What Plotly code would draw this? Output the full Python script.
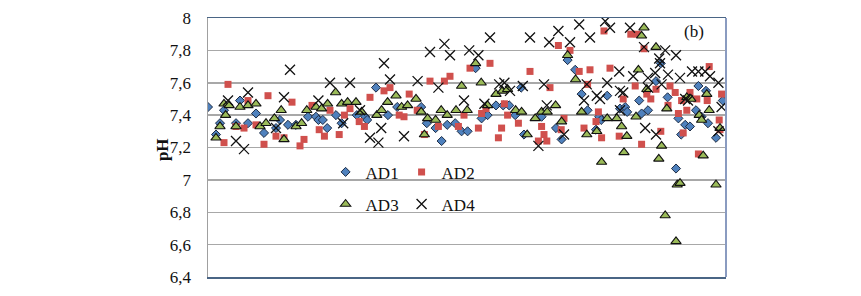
import plotly.graph_objects as go

# ---------------- data ----------------
ad1_x = [0, 2, 3, 4, 7, 8, 10, 12, 14, 17, 18, 20, 22, 25, 27, 27.6, 28.7, 29.8, 32, 33.4,
         37.2, 39.3, 39.8, 42, 45, 47.3, 53.3, 54.7, 56.9, 58.4, 59.8, 61.8, 63.4, 64.9, 66.9,
         68.4, 69.9, 72, 73.8, 75.3, 76.8, 78.3, 79, 83.4, 87, 88.4, 89.9, 91.8, 93.4, 94.9,
         97, 97.8, 98.3, 99.8, 103, 104.3, 104.8, 107.8, 108.4, 109.8, 110, 112, 113.2, 114.9,
         117, 117.6, 118.3, 119.3, 120.3, 120.5, 122, 122.6, 123.4, 124.5, 125, 127, 128.7]
ad1_y = [7.45, 7.28, 7.35, 7.43, 7.35, 7.49, 7.35, 7.41, 7.29, 7.32, 7.37, 7.34, 7.34, 7.39, 7.39,
         7.37, 7.37, 7.32, 7.40, 7.35, 7.40, 7.39, 7.37, 7.57, 7.40, 7.45, 7.45, 7.35, 7.32, 7.24,
         7.34, 7.35, 7.30, 7.30, 7.69, 7.38, 7.40, 7.46, 7.46, 7.46, 7.40, 7.57, 7.28, 7.39, 7.32,
         7.25, 7.74, 7.68, 7.53, 7.43, 7.31, 7.39, 7.37, 7.52, 7.44, 7.45, 7.42, 7.49, 7.41, 7.55,
         7.43, 7.61, 7.72, 7.51, 7.07, 7.38, 7.28, 7.34, 7.51, 7.33, 7.43, 7.58, 7.39, 7.55, 7.35,
         7.26, 7.49]

ad2_x = [4, 5, 7, 9, 10, 12, 14, 15, 17, 19, 21, 23, 24, 26, 27.8, 29.1, 30.5, 32.8, 34.1, 35.5,
         37.8, 39.1, 40.5, 44, 45.5, 47.8, 49, 50.3, 52.3, 54.1, 55.5, 57.6, 59.1, 60.5, 62.6, 64,
         65.5, 67.6, 68.4, 69.5, 70.5, 72.6, 73.4, 74.1, 74.9, 77.6, 80.5, 82.6, 83.4, 84, 84.7,
         85.5, 87.6, 88.3, 89, 90.5, 92.8, 94, 94.9, 95.5, 97, 97.6, 98.4, 99, 100.5, 102.8,
         103.8, 105.7, 106.8, 107.3, 108.4, 109, 109.7, 110.7, 112, 113.2, 115, 115.5, 116.8,
         117.6, 118.4, 118.8, 119.7, 120.5, 122.2, 122.6, 124.8, 125.3, 127.8, 128, 128.4]
ad2_y = [7.23, 7.59, 7.33, 7.32, 7.49, 7.34, 7.22, 7.52, 7.27, 7.26, 7.48, 7.21, 7.25, 7.46, 7.31,
         7.27, 7.43, 7.28, 7.40, 7.44, 7.36, 7.33, 7.51, 7.55, 7.57, 7.40, 7.39, 7.53, 7.43, 7.28,
         7.61, 7.33, 7.61, 7.64, 7.33, 7.40, 7.69, 7.32, 7.41, 7.44, 7.72, 7.26, 7.32, 7.47, 7.40,
         7.35, 7.67, 7.24, 7.33, 7.28, 7.24, 7.57, 7.83, 7.31, 7.38, 7.80, 7.67, 7.32, 7.59, 7.68,
         7.36, 7.42, 7.26, 7.92, 7.69, 7.27, 7.50, 7.90, 7.58, 7.90, 7.22, 7.81, 7.53, 7.50, 7.56,
         7.30, 7.46, 7.58, 7.54, 7.41, 7.49, 7.29, 7.43, 7.54, 7.50, 7.16, 7.49, 7.70, 7.37, 7.31,
         7.53]

ad3_x = [2, 3, 4, 4.4, 5.3, 7, 8, 10, 12, 13, 14.5, 16.6, 18.3, 19, 22, 23.4, 24.7, 27, 28.4,
         29.9, 31.9, 33.4, 34.9, 37, 38.4, 42.2, 43.4, 44.9, 47, 48.4, 49.9, 52, 53.3, 54.1, 54.9,
         56.9, 58.3, 59.8, 62, 63.4, 64.8, 66.9, 68.3, 69.9, 72, 73.6, 74.9, 76.9, 78.4, 79.8,
         81.8, 83.4, 84.8, 86.9, 88.4, 89.9, 91.9, 93.4, 94.7, 97.2, 98.4, 99.8, 102.2, 103.4,
         104, 104.7, 107, 107.6, 108.4, 109, 109.7, 112, 112.7, 113.4, 114.3, 114.7, 117, 117.3,
         118, 119.7, 120.7, 122.8, 123.4, 123.8, 124.7, 125.3, 127, 128]
ad3_y = [7.26, 7.33, 7.47, 7.40, 7.46, 7.33, 7.45, 7.46, 7.47, 7.33, 7.35, 7.38, 7.43, 7.25, 7.33,
         7.35, 7.43, 7.45, 7.44, 7.47, 7.54, 7.47, 7.48, 7.48, 7.42, 7.40, 7.43, 7.48, 7.52, 7.45,
         7.46, 7.50, 7.42, 7.28, 7.38, 7.37, 7.43, 7.40, 7.43, 7.58, 7.43, 7.72, 7.60, 7.46, 7.53,
         7.55, 7.56, 7.43, 7.42, 7.28, 7.38, 7.42, 7.42, 7.46, 7.36, 7.77, 7.62, 7.42, 7.28, 7.30,
         7.11, 7.38, 7.38, 7.33, 7.17, 7.27, 7.39, 7.68, 7.89, 7.94, 7.56, 7.82, 7.13, 7.21, 6.78,
         7.44, 6.62, 6.97, 6.98, 7.51, 7.50, 7.40, 7.37, 7.15, 7.53, 7.43, 6.97, 7.32]

ad4_x = [5, 7, 9, 10, 17, 19, 20.5, 27.6, 30.5, 33.8, 35.5, 38, 40.5, 42.6, 43.3, 44, 45.5, 49,
         52.4, 55.5, 57.6, 59.1, 60.5, 64, 65.3, 67.6, 69.1, 70.5, 72.8, 74.1, 75.5, 78.7, 80.5,
         82.6, 84, 84.7, 85.3, 87.6, 89, 90.5, 92.8, 94, 94.7, 95.5, 97.2, 98, 99.3, 99.8, 100.5,
         102.8, 103, 103, 103.8, 105.5, 106.3, 109, 109.3, 110, 110, 111.8, 112, 112.8, 113,
         113.4, 114.3, 115, 117, 118, 119.3, 120, 121, 122.6, 124.3, 125.5, 127.6, 127.6, 128.4]
ad4_y = [7.49, 7.24, 7.19, 7.54, 7.32, 7.51, 7.68, 7.49, 7.60, 7.35, 7.60, 7.43, 7.26, 7.23, 7.32,
         7.72, 7.62, 7.27, 7.61, 7.79, 7.57, 7.84, 7.77, 7.49, 7.80, 7.77, 7.47, 7.88, 7.59, 7.60,
         7.55, 7.58, 7.88, 7.21, 7.59, 7.46, 7.85, 7.92, 7.28, 7.85, 7.96, 7.49, 7.59, 7.88, 7.52,
         7.50, 7.98, 7.60, 7.94, 7.67, 7.55, 7.43, 7.54, 7.94, 7.64, 7.82, 7.32, 7.63, 7.57, 7.66,
         7.28, 7.75, 7.72, 7.59, 7.80, 7.65, 7.77, 7.63, 7.50, 7.49, 7.67, 7.67, 7.67, 7.64, 7.60,
         7.30, 7.45]

y_tickvals = [6.4, 6.6, 6.8, 7.0, 7.2, 7.4, 7.6, 7.8, 8.0]
y_ticktext = ["6,4", "6,6", "6,8", "7", "7,2", "7,4", "7,6", "7,8", "8"]

# ---------------- figure ----------------
SERIF = "Liberation Serif"
fig = go.Figure()

fig.add_trace(go.Scatter(
    x=ad1_x, y=ad1_y, mode="markers", name="AD1", legend="legend",
    marker=dict(symbol="diamond", size=7, color="#4f81bd",
                line=dict(color="#1d2c45", width=1))))
fig.add_trace(go.Scatter(
    x=ad2_x, y=ad2_y, mode="markers", name="AD2", legend="legend",
    marker=dict(symbol="square", size=7, color="#d0504d",
                line=dict(width=0))))
fig.add_trace(go.Scatter(
    x=ad3_x, y=ad3_y, mode="markers", name="AD3", legend="legend2",
    marker=dict(symbol="triangle-up", size=9, color="#9bbb59",
                line=dict(color="#111111", width=1.1))))
fig.add_trace(go.Scatter(
    x=ad4_x, y=ad4_y, mode="markers", name="AD4", legend="legend2",
    marker=dict(symbol="x-thin-open", size=10, color="#111111",
                line=dict(color="#111111", width=1.3))))

# right border of plot area
fig.add_shape(type="line", xref="paper", yref="paper", x0=1, x1=1, y0=0, y1=1,
              line=dict(color="#8a9bc0", width=2))

fig.add_annotation(text="(b)", xref="paper", yref="paper", x=0.938, y=0.949,
                   xanchor="center", yanchor="middle",
                   showarrow=False, font=dict(family=SERIF, size=17, color="#111111"))
fig.add_annotation(text="<b>pH</b>", xref="paper", yref="paper", x=-0.0888, y=0.49,
                   xanchor="center", yanchor="middle", textangle=-90,
                   showarrow=False, font=dict(family=SERIF, size=17, color="#111111"))

legend_common = dict(orientation="h", xanchor="left", yanchor="middle",
                     bgcolor="rgba(0,0,0,0)", borderwidth=0,
                     font=dict(family=SERIF, size=17, color="#111111"),
                     entrywidth=31, entrywidthmode="pixels", itemwidth=30)

fig.update_layout(
    width=861, height=296,
    margin=dict(l=208, r=135, t=12, b=9),
    paper_bgcolor="white", plot_bgcolor="white",
    showlegend=True,
    legend=dict(x=0.227, y=0.404, **legend_common),
    legend2=dict(x=0.227, y=0.28, **legend_common),
    xaxis=dict(range=[0, 129.5], showgrid=False, zeroline=False, showticklabels=False,
               ticks="", showline=True, linecolor="#4a6585", linewidth=1.5, mirror=True),
    yaxis=dict(range=[6.4, 8.0], tickvals=y_tickvals, ticktext=y_ticktext,
               showgrid=True, gridcolor="#a8a8a8", gridwidth=1.5, zeroline=False,
               showline=True, linecolor="#a0a0a0", linewidth=1.5, ticks="",
               ticklabelstandoff=12, ticklabeloverflow="allow",
               tickfont=dict(family=SERIF, size=17, color="#111111")),
)

fig.write_html("out.html", config={"displayModeBar": False, "staticPlot": True},
               post_script="document.body.style.margin='0';document.body.style.overflow='hidden';")
